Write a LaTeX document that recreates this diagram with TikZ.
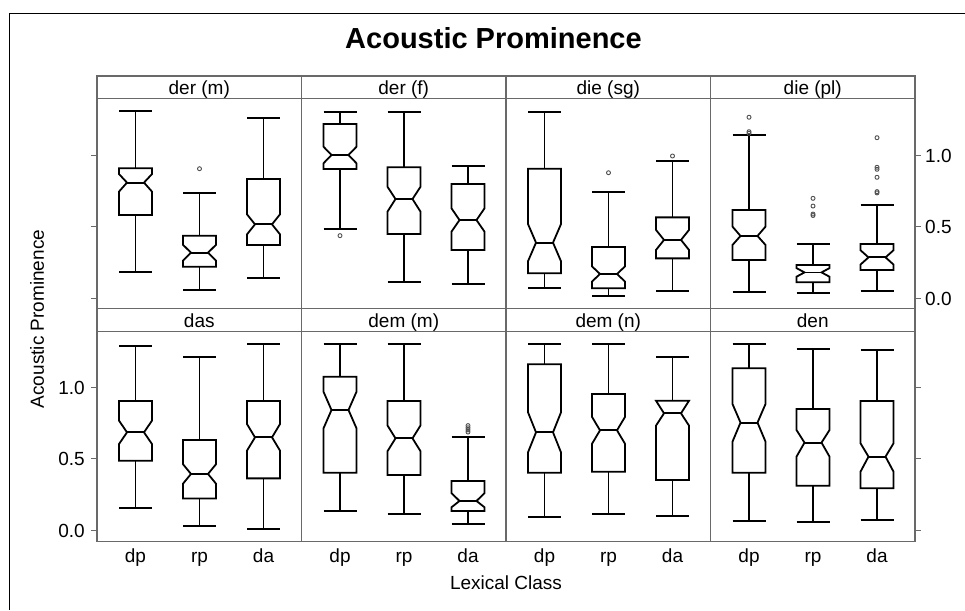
\documentclass[tikz,border=0pt]{standalone}
\usepackage{fontspec}
\setmainfont{Liberation Sans}
\definecolor{pgray}{RGB}{105,105,105}
\definecolor{ogray}{RGB}{80,80,80}
\def\BW{16.5}
\def\NW{8.5}
\def\SC{143}
\tikzset{
  boxline/.style={black, line width=1.8pt, line join=miter},
  frameline/.style={black, line width=1.3pt},
  panelline/.style={draw=pgray, line width=1.2pt},
  tickline/.style={draw=pgray, line width=1pt},
  outl/.style={draw=ogray, line width=0.9pt},
  lab/.style={font=\fontsize{19}{22}\selectfont, inner sep=0pt, anchor=base},
}
% x, base, wlo, q1, nlo, med, nhi, q3, whi
\newcommand{\nbox}[9]{%
  \draw[boxline] ({#1-\BW},{#2-\SC*#4}) -- ({#1-\BW},{#2-\SC*#5}) -- ({#1-\NW},{#2-\SC*#6})
    -- ({#1-\BW},{#2-\SC*#7}) -- ({#1-\BW},{#2-\SC*#8}) -- ({#1+\BW},{#2-\SC*#8})
    -- ({#1+\BW},{#2-\SC*#7}) -- ({#1+\NW},{#2-\SC*#6}) -- ({#1+\BW},{#2-\SC*#5})
    -- ({#1+\BW},{#2-\SC*#4}) -- cycle;
  \draw[boxline] ({#1-\NW},{#2-\SC*#6}) -- ({#1+\NW},{#2-\SC*#6});
  \draw[boxline] (#1,{#2-\SC*#8}) -- (#1,{#2-\SC*#9});
  \draw[boxline] ({#1-\BW},{#2-\SC*#9}) -- ({#1+\BW},{#2-\SC*#9});
  \draw[boxline] (#1,{#2-\SC*#4}) -- (#1,{#2-\SC*#3});
  \draw[boxline] ({#1-\BW},{#2-\SC*#3}) -- ({#1+\BW},{#2-\SC*#3});
}
\newcommand{\outl}[3]{\draw[outl] (#1,{#2-\SC*#3}) circle[radius=2pt];}
\begin{document}
\begin{tikzpicture}[x=1pt,y=-1pt]
\useasboundingbox (0,0) rectangle (965,610);
\fill[white] (0,0) rectangle (965,610);
% outer frame
\draw[frameline] (9.5,610) -- (9.5,13.5) -- (965,13.5);
% title
\node[font=\fontsize{29}{34}\selectfont\bfseries, inner sep=0pt, anchor=base] (title) at (493.5,48.3) {Acoustic Prominence};
% panels and strips
\foreach \L/\R in {97/301.5, 301.5/506, 506/710.5, 710.5/915}{
  \draw[panelline] (\L,76) rectangle (\R,98.5);
  \draw[panelline] (\L,98.5) rectangle (\R,308.5);
  \draw[panelline] (\L,308.5) rectangle (\R,331.5);
  \draw[panelline] (\L,331.5) rectangle (\R,541.5);
}
% strip labels
\node[lab] (s1) at (199.25,94.5) {der (m)};
\node[lab] (s2) at (403.75,94.5) {der (f)};
\node[lab] (s3) at (608.25,94.5) {die (sg)};
\node[lab] (s4) at (812.75,94.5) {die (pl)};
\node[lab] (s5) at (199.25,327.5) {das};
\node[lab] (s6) at (403.75,327.5) {dem (m)};
\node[lab] (s7) at (608.25,327.5) {dem (n)};
\node[lab] (s8) at (812.75,327.5) {den};
% ticks
\foreach \v in {0,0.5,1}{
  \draw[tickline] (97,{298-\SC*\v}) -- (91,{298-\SC*\v});
  \draw[tickline] (915,{298-\SC*\v}) -- (921,{298-\SC*\v});
  \draw[tickline] (97,{530-\SC*\v}) -- (91,{530-\SC*\v});
  \draw[tickline] (915,{530-\SC*\v}) -- (921,{530-\SC*\v});
}
\node[lab, anchor=base west] (r10) at (925,162) {1.0};
\node[lab, anchor=base west] (r05) at (925,233.5) {0.5};
\node[lab, anchor=base west] (r00) at (925,305) {0.0};
\node[lab, anchor=base east] (l10) at (85,394) {1.0};
\node[lab, anchor=base east] (l05) at (85,465.5) {0.5};
\node[lab, anchor=base east] (l00) at (85,537) {0.0};
% x labels
\foreach \L in {97,301.5,506,710.5}{
  \node[lab] at (\L+38.5,562) {dp};
  \node[lab] at (\L+102.5,562) {rp};
  \node[lab] at (\L+166.5,562) {da};
}
\node[lab] (xlab) at (506,589) {Lexical Class};
\node[font=\fontsize{19}{22}\selectfont, inner sep=0pt, rotate=90] (ylab) at (37,319) {Acoustic Prominence};
% ---- row 1 (base 298)
% der (m)
\nbox{135.5}{298}{.182}{.580}{.744}{.807}{.867}{.907}{1.308}
\nbox{199.5}{298}{.054}{.219}{.262}{.317}{.372}{.436}{.732}
\outl{199.5}{298}{.904}
\nbox{263.5}{298}{.138}{.371}{.445}{.515}{.585}{.832}{1.256}
% der (f)
\nbox{340}{298}{.480}{.902}{.942}{1.0}{1.058}{1.217}{1.303}
\outl{340}{298}{.436}
\nbox{404}{298}{.110}{.448}{.604}{.692}{.778}{.914}{1.303}
\nbox{468}{298}{.100}{.336}{.464}{.545}{.627}{.797}{.925}
% die (sg)
\nbox{544.5}{298}{.068}{.173}{.257}{.387}{.517}{.904}{1.303}
\nbox{608.5}{298}{.014}{.068}{.115}{.168}{.221}{.357}{.741}
\outl{608.5}{298}{.876}
\nbox{672.5}{298}{.051}{.277}{.336}{.406}{.476}{.564}{.960}
\outl{672.5}{298}{.993}
% die (pl)
\nbox{749}{298}{.044}{.266}{.371}{.434}{.499}{.615}{1.140}
\outl{749}{298}{1.264}\outl{749}{298}{1.163}\outl{749}{298}{1.152}
\nbox{813}{298}{.033}{.110}{.149}{.179}{.209}{.231}{.378}
\outl{813}{298}{.697}\outl{813}{298}{.643}\outl{813}{298}{.587}\outl{813}{298}{.577}
\nbox{877}{298}{.049}{.196}{.234}{.284}{.334}{.378}{.650}
\outl{877}{298}{1.121}\outl{877}{298}{.914}\outl{877}{298}{.900}
\outl{877}{298}{.844}\outl{877}{298}{.744}\outl{877}{298}{.735}
% ---- row 2 (base 530)
% das
\nbox{135.5}{530}{.152}{.485}{.601}{.683}{.765}{.902}{1.289}
\nbox{199.5}{530}{.030}{.221}{.324}{.392}{.460}{.629}{1.212}
\nbox{263.5}{530}{.009}{.361}{.555}{.648}{.741}{.902}{1.298}
% dem (m)
\nbox{340}{530}{.131}{.401}{.711}{.839}{.967}{1.072}{1.303}
\nbox{404}{530}{.114}{.385}{.551}{.641}{.731}{.902}{1.303}
\nbox{468}{530}{.042}{.133}{.159}{.203}{.258}{.343}{.648}
\outl{468}{530}{.730}\outl{468}{530}{.715}\outl{468}{530}{.700}\outl{468}{530}{.685}
% dem (n)
\nbox{544.5}{530}{.093}{.401}{.543}{.683}{.823}{1.159}{1.301}
\nbox{608.5}{530}{.110}{.408}{.603}{.697}{.791}{.951}{1.303}
\nbox{672.5}{530}{.098}{.350}{.730}{.816}{.904}{.904}{1.208}
% den
\nbox{749}{530}{.063}{.401}{.618}{.751}{.881}{1.131}{1.303}
\nbox{813}{530}{.056}{.310}{.513}{.611}{.699}{.846}{1.264}
\nbox{877}{530}{.068}{.292}{.408}{.513}{.606}{.902}{1.257}
\end{tikzpicture}
\end{document}
